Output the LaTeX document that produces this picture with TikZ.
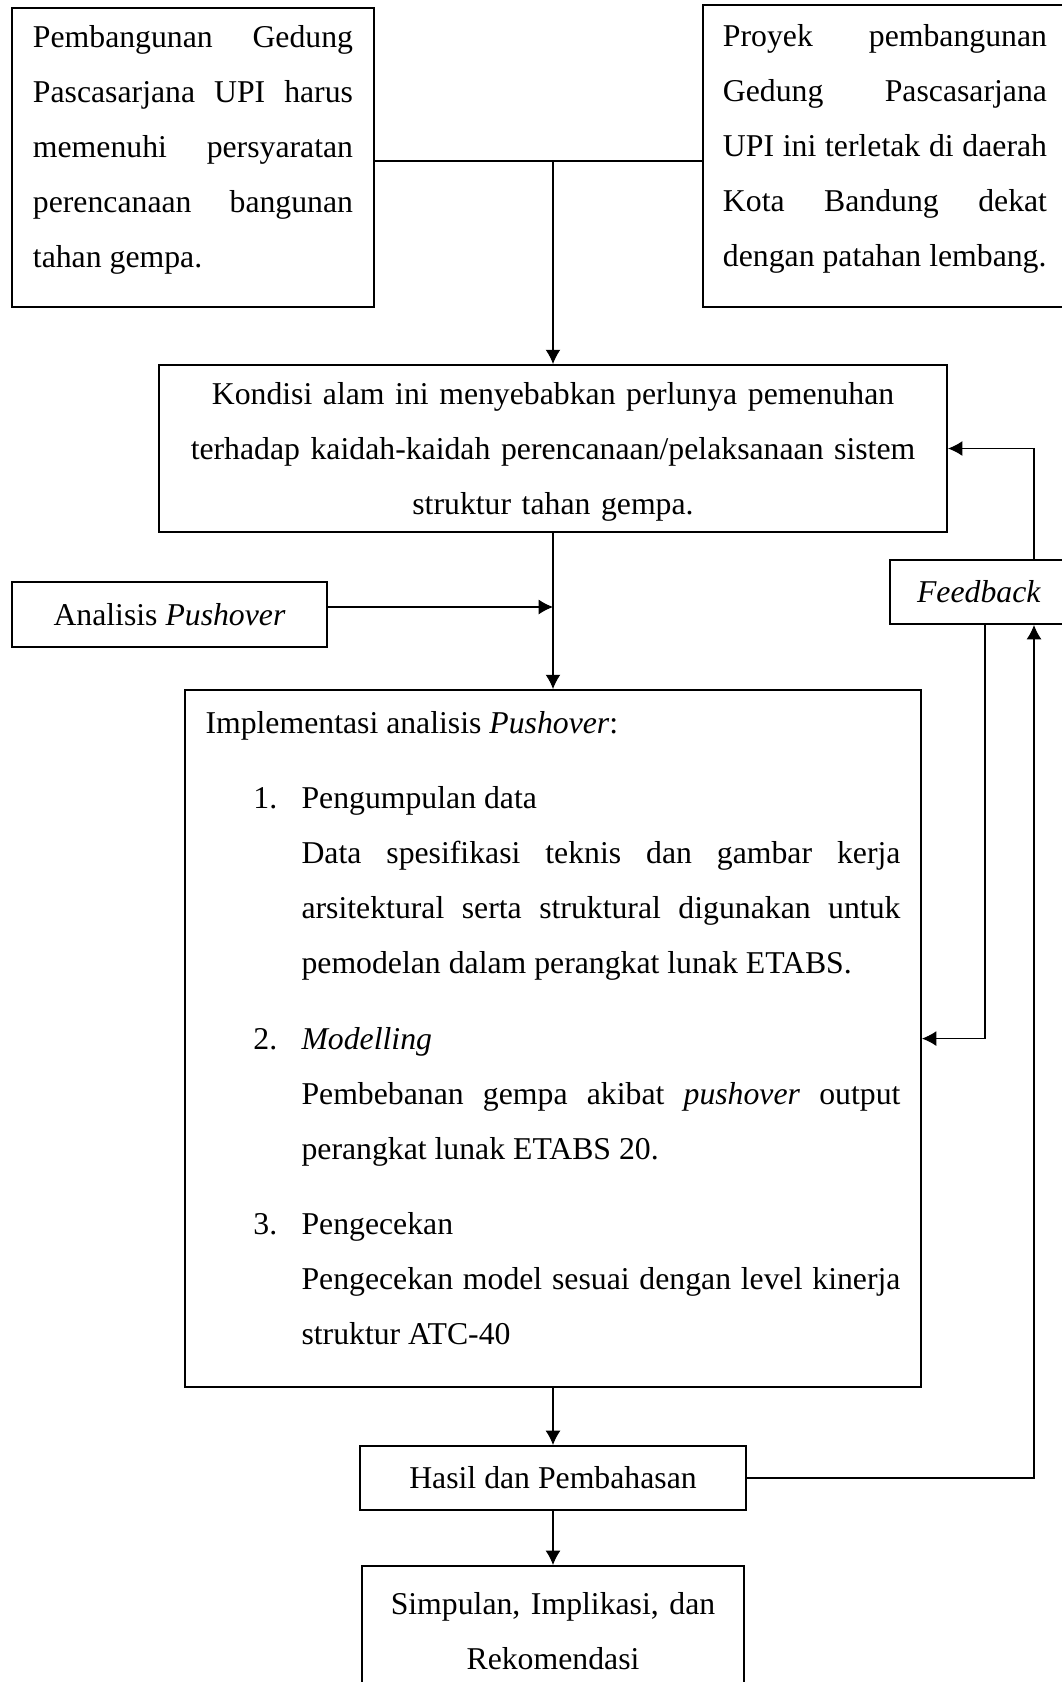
\documentclass[tikz,border=0pt]{standalone}
\usepackage{fontspec}
\setmainfont{Liberation Serif}
\usetikzlibrary{positioning}
\usetikzlibrary{arrows.meta}
\tolerance=10000
\hbadness=10000
\newcommand{\vstrut}{\rule[-8pt]{0pt}{16pt}}
\newcommand{\itemnum}[1]{\noindent\llap{\makebox[18.2pt][l]{#1}}}
\newcommand{\blockgap}{\par\vskip7.56pt}

\begin{document}
\begin{tikzpicture}[
    x=0.378pt, y=-0.378pt,
    >={Latex[length=5.4pt,width=5.6pt]},
    % node styles
    box/.style = {
      draw,
      line width=0.75pt,
      inner xsep=4pt,
      inner ysep=0.3pt,
      font=\fontsize{12pt}{20.8pt}\selectfont
    },
    para/.style = {
      box,
      align=justify
    },
    % arrow styles
    arr/.style = {->, line width=0.4pt},
    conn/.style = {-, line width=0.4pt}
  ]
  \useasboundingbox (0,0) rectangle (1062,1682);

  % --- Nodes
  \node[para, text width=121pt, minimum width=136.8pt, minimum height=113pt] (gedung) at (193,157.5)
    {\vstrut Pembangunan Gedung\linebreak
     Pascasarjana UPI harus\linebreak
     memenuhi persyaratan\linebreak
     perencanaan bangunan\linebreak
     tahan gempa.\vstrut};
  \node[para, text width=122.5pt, minimum width=137.6pt, minimum height=114.2pt] (lokasi) at (885,156)
    {\vstrut Proyek pembangunan\linebreak
     Gedung Pascasarjana\linebreak
     UPI ini terletak di daerah\linebreak
     Kota Bandung dekat\linebreak
     dengan~patahan~lembang.\vstrut};

  \node[box, align=center, text width=285pt, minimum width=297.9pt, minimum height=63.1pt] (kondisi) at (553,448.5)
    {\strut Kondisi alam ini menyebabkan perlunya pemenuhan\\
     terhadap kaidah-kaidah perencanaan/pelaksanaan sistem\\
     struktur tahan gempa.\strut};

  \node[box, minimum width=119.1pt, minimum height=24.6pt] (anal) at (169.5,614.5) {Analisis \textit{Pushover}};
  \node[box, minimum width=67.3pt, minimum height=24.2pt] (feedback) at (979,592) {\textit{Feedback}};

  \node[para, text width=262.7pt, minimum width=278.2pt, minimum height=263.5pt, below=59pt of kondisi] (impl)
    {\vstrut Implementasi analisis \textit{Pushover}:\blockgap
     {\leftskip=36.3pt
     \itemnum{1.}Pengumpulan data\par
     Data spesifikasi teknis dan gambar kerja\linebreak
     arsitektural serta struktural digunakan untuk\linebreak
     pemodelan dalam perangkat lunak ETABS.\blockgap
     \itemnum{2.}\textit{Modelling}\par
     Pembebanan gempa akibat \textit{pushover} output\linebreak
     perangkat lunak ETABS 20.\blockgap
     \itemnum{3.}Pengecekan\par
     Pengecekan model sesuai dengan level kinerja\linebreak
     struktur ATC-40\vstrut\par}};

  \node[box, minimum width=145.9pt, minimum height=24.2pt, below=21.5pt of impl] (hasil) {Hasil dan Pembahasan};
  \node[box, align=center, text width=132pt, minimum width=144.4pt, minimum height=48.8pt, below=20.4pt of hasil] (simpulan)
    {\strut Simpulan, Implikasi, dan\\ Rekomendasi\strut};

  % --- Arrows
  \coordinate (join) at (553,161);
  \draw[conn] (gedung.east |- join) -- (lokasi.west |- join);
  \draw[arr] (join) -- (kondisi);

  \coordinate (hit) at (553,607);
  \draw[arr] (kondisi) -- (impl);
  \draw[arr] (anal.east |- hit) -- (hit);

  % feedback loop on the right
  \coordinate (rail) at (1034,0);
  \coordinate (fbdown) at (985,0);
  \draw[arr] (feedback.north -| rail) |- (kondisi.east);
  \draw[arr] (feedback.south -| fbdown) |- (impl.east);
  \draw[arr] (hasil.east) -| (feedback.south -| rail);

  \draw[arr] (impl) -- (hasil);
  \draw[arr] (hasil) -- (simpulan);
\end{tikzpicture}
\end{document}
